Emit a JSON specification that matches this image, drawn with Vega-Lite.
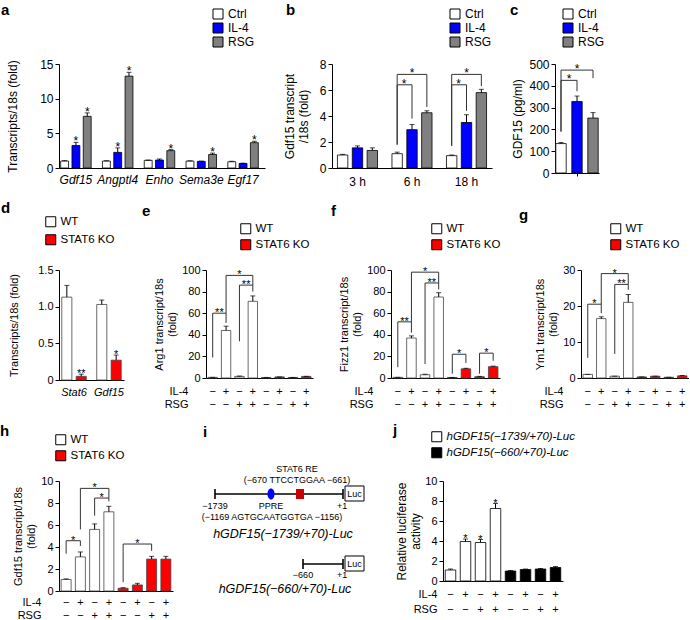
{
"$schema":"https://vega.github.io/schema/vega-lite/v6.json",
"padding":{"left":0,"top":3,"right":0,"bottom":0},
"background":"white",
"spacing":14,
"resolve":{"scale":{"fill":"independent","xOffset":"independent","x":"independent","y":"independent"},"legend":{"fill":"independent"}},
"config":{
 "font":"Liberation Sans",
 "view":{"stroke":null},
 "axis":{"grid":false,"domainColor":"#000","tickColor":"#000","labelColor":"#000","titleColor":"#000","labelFontSize":11,"titleFontSize":11,"titleFontWeight":"normal","tickSize":4,"labelPadding":2,"labelOverlap":false},
 "legend":{"symbolType":"square","symbolSize":100,"symbolStrokeColor":"#000","symbolStrokeWidth":1,"labelFontSize":11.5,"labelColor":"#000","rowPadding":1,"labelOffset":4},
 "title":{"fontSize":15,"fontWeight":"bold","anchor":"start","frame":"group","color":"#000"}
},
"vconcat":[
{"hconcat":[
 {"width":206,"height":104,
  "title":{"text":"a","dx":-58,"offset":-10},
  "data":{"values":[
   {"g":"Gdf15","c":"Ctrl","v":1.0,"hi":1.07,"t":""},
   {"g":"Gdf15","c":"IL-4","v":3.25,"hi":3.7,"t":"*"},
   {"g":"Gdf15","c":"RSG","v":7.45,"hi":7.95,"t":"*"},
   {"g":"Angptl4","c":"Ctrl","v":1.0,"hi":1.05,"t":""},
   {"g":"Angptl4","c":"IL-4","v":2.25,"hi":2.9,"t":"*"},
   {"g":"Angptl4","c":"RSG","v":13.25,"hi":13.8,"t":"*"},
   {"g":"Enho","c":"Ctrl","v":1.1,"hi":1.15,"t":""},
   {"g":"Enho","c":"IL-4","v":1.15,"hi":1.3,"t":""},
   {"g":"Enho","c":"RSG","v":2.5,"hi":2.65,"t":"*"},
   {"g":"Sema3e","c":"Ctrl","v":1.0,"hi":1.03,"t":""},
   {"g":"Sema3e","c":"IL-4","v":0.95,"hi":1.0,"t":""},
   {"g":"Sema3e","c":"RSG","v":1.95,"hi":2.15,"t":"*"},
   {"g":"Egf17","c":"Ctrl","v":0.9,"hi":0.97,"t":""},
   {"g":"Egf17","c":"IL-4","v":0.65,"hi":0.7,"t":""},
   {"g":"Egf17","c":"RSG","v":3.65,"hi":3.85,"t":"*"}
  ]},
  "encoding":{
   "x":{"field":"g","type":"nominal","sort":null,"scale":{"paddingInner":0.27,"paddingOuter":0.1,"align":0.2},"axis":{"title":null,"labelAngle":0,"ticks":false,"labelFontStyle":"italic","labelFontSize":12,"labelPadding":6}},
   "xOffset":{"field":"c","type":"nominal","sort":["Ctrl","IL-4","RSG"],"scale":{"paddingInner":0.3}}
  },
  "layer":[
   {"mark":{"type":"bar","stroke":"#000","strokeWidth":0.8},
    "encoding":{"y":{"field":"v","type":"quantitative","scale":{"domain":[0,15]},"axis":{"values":[0,5,10,15],"tickCount":20,"format":"d","title":"Transcripts/18s (fold)","labelFontSize":12,"titleFontSize":12,"titlePadding":20}},
     "fill":{"field":"c","type":"nominal","scale":{"domain":["Ctrl","IL-4","RSG"],"range":["#ffffff","#0000ff","#808080"]},"legend":{"orient":"none","legendX":153,"legendY":-56,"title":null,"labelFontSize":12,"rowPadding":0}}}},
   {"mark":{"type":"rule","color":"#000","strokeWidth":1},"encoding":{"y":{"field":"v","type":"quantitative","scale":{"domain":[0,15]}},"y2":{"field":"hi"}}},
   {"mark":{"type":"tick","color":"#000","thickness":1,"size":5},"encoding":{"y":{"field":"hi","type":"quantitative","scale":{"domain":[0,15]}}}},
   {"mark":{"type":"text","fontSize":12,"dy":3,"baseline":"alphabetic"},"encoding":{"y":{"field":"hi","type":"quantitative","scale":{"domain":[0,15]}},"text":{"field":"t"}}}
  ]},
 {"width":160,"height":104,
  "title":{"text":"b","dx":-46,"offset":-10},
  "data":{"values":[
   {"tm":"3 h","c":"Ctrl","v":1.0,"hi":1.05},
   {"tm":"3 h","c":"IL-4","v":1.55,"hi":1.7},
   {"tm":"3 h","c":"RSG","v":1.35,"hi":1.55},
   {"tm":"6 h","c":"Ctrl","v":1.1,"hi":1.22},
   {"tm":"6 h","c":"IL-4","v":2.95,"hi":3.35},
   {"tm":"6 h","c":"RSG","v":4.25,"hi":4.4},
   {"tm":"18 h","c":"Ctrl","v":0.95,"hi":1.0},
   {"tm":"18 h","c":"IL-4","v":3.5,"hi":4.1},
   {"tm":"18 h","c":"RSG","v":5.8,"hi":6.05}
  ]},
  "encoding":{
   "x":{"field":"tm","type":"nominal","sort":null,"scale":{"domain":["3 h","6 h","18 h"],"paddingInner":0.265,"paddingOuter":0.1},"axis":{"title":null,"labelAngle":0,"ticks":false,"labelFontSize":12,"labelPadding":8}},
   "xOffset":{"field":"c","type":"nominal","sort":["Ctrl","IL-4","RSG"],"scale":{"domain":["Ctrl","IL-4","RSG"],"paddingInner":0.3}}
  },
  "layer":[
   {"mark":{"type":"bar","stroke":"#000","strokeWidth":0.8},
    "encoding":{"y":{"field":"v","type":"quantitative","scale":{"domain":[0,8]},"axis":{"values":[0,2,4,6,8],"tickCount":20,"format":"d","title":["Gdf15 transcript","/18s (fold)"],"labelFontSize":12,"titleFontSize":12,"titlePadding":9}},
     "fill":{"field":"c","type":"nominal","scale":{"domain":["Ctrl","IL-4","RSG"],"range":["#ffffff","#0000ff","#808080"]},"legend":{"orient":"none","legendX":117,"legendY":-56,"title":null,"labelFontSize":12,"rowPadding":0}}}},
   {"mark":{"type":"rule","color":"#000","strokeWidth":1},"encoding":{"y":{"field":"v","type":"quantitative","scale":{"domain":[0,8]}},"y2":{"field":"hi"}}},
   {"mark":{"type":"tick","color":"#000","thickness":1,"size":5},"encoding":{"y":{"field":"hi","type":"quantitative","scale":{"domain":[0,8]}}}},
   {"data":{"values":[
     {"id":"b1","tm":"6 h","c":"Ctrl","v":1.8,"o":1},{"id":"b1","tm":"6 h","c":"Ctrl","v":6.4,"o":2},{"id":"b1","tm":"6 h","c":"IL-4","v":6.4,"o":3},{"id":"b1","tm":"6 h","c":"IL-4","v":3.8,"o":4},
     {"id":"b2","tm":"6 h","c":"Ctrl","v":1.8,"o":1},{"id":"b2","tm":"6 h","c":"Ctrl","v":7.2,"o":2},{"id":"b2","tm":"6 h","c":"RSG","v":7.2,"o":3},{"id":"b2","tm":"6 h","c":"RSG","v":4.7,"o":4},
     {"id":"b3","tm":"18 h","c":"Ctrl","v":1.7,"o":1},{"id":"b3","tm":"18 h","c":"Ctrl","v":6.4,"o":2},{"id":"b3","tm":"18 h","c":"IL-4","v":6.4,"o":3},{"id":"b3","tm":"18 h","c":"IL-4","v":4.4,"o":4},
     {"id":"b4","tm":"18 h","c":"Ctrl","v":1.7,"o":1},{"id":"b4","tm":"18 h","c":"Ctrl","v":7.2,"o":2},{"id":"b4","tm":"18 h","c":"RSG","v":7.2,"o":3},{"id":"b4","tm":"18 h","c":"RSG","v":6.3,"o":4}
    ]},
    "mark":{"type":"line","color":"#333","strokeWidth":1},
    "encoding":{"y":{"field":"v","type":"quantitative","scale":{"domain":[0,8]}},"detail":{"field":"id"},"order":{"field":"o","type":"quantitative"}}},
   {"data":{"values":[{"tm":"6 h","c":"Ctrl","v":6.4,"t":"*"},{"tm":"18 h","c":"Ctrl","v":6.4,"t":"*"}]},
    "mark":{"type":"text","fontSize":12,"dx":7,"dy":3,"baseline":"alphabetic"},
    "encoding":{"y":{"field":"v","type":"quantitative","scale":{"domain":[0,8]}},"text":{"field":"t"}}},
   {"data":{"values":[{"tm":"6 h","c":"IL-4","v":7.2,"t":"*"},{"tm":"18 h","c":"IL-4","v":7.2,"t":"*"}]},
    "mark":{"type":"text","fontSize":12,"dy":3,"baseline":"alphabetic"},
    "encoding":{"y":{"field":"v","type":"quantitative","scale":{"domain":[0,8]}},"text":{"field":"t"}}}
  ]},
 {"width":44,"height":109,
  "title":{"text":"c","dx":-45,"offset":-10},
  "data":{"values":[
   {"c":"Ctrl","v":135,"hi":140},
   {"c":"IL-4","v":328,"hi":353},
   {"c":"RSG","v":252,"hi":277}
  ]},
  "encoding":{
   "x":{"field":"c","type":"nominal","sort":null,"scale":{"domain":["Ctrl","IL-4","RSG"],"paddingInner":0.35,"paddingOuter":0.05},"axis":{"title":null,"labels":false,"ticks":true,"tickSize":3,"values":["IL-4"]}}
  },
  "layer":[
   {"mark":{"type":"bar","stroke":"#000","strokeWidth":0.8},
    "encoding":{"y":{"field":"v","type":"quantitative","scale":{"domain":[0,500]},"axis":{"values":[0,100,200,300,400,500],"tickCount":20,"format":"d","title":"GDF15 (pg/ml)","labelFontSize":12,"titleFontSize":12}},
     "fill":{"field":"c","type":"nominal","scale":{"domain":["Ctrl","IL-4","RSG"],"range":["#ffffff","#0000ff","#808080"]},"legend":{"orient":"none","legendX":7,"legendY":-56,"title":null,"labelFontSize":12,"rowPadding":0}}}},
   {"mark":{"type":"rule","color":"#000","strokeWidth":1},"encoding":{"y":{"field":"v","type":"quantitative","scale":{"domain":[0,500]}},"y2":{"field":"hi"}}},
   {"mark":{"type":"tick","color":"#000","thickness":1,"size":5},"encoding":{"y":{"field":"hi","type":"quantitative","scale":{"domain":[0,500]}}}},
   {"data":{"values":[
     {"id":"c1","c":"Ctrl","v":190,"o":1},{"id":"c1","c":"Ctrl","v":425,"o":2},{"id":"c1","c":"IL-4","v":425,"o":3},{"id":"c1","c":"IL-4","v":375,"o":4},
     {"id":"c2","c":"Ctrl","v":190,"o":1},{"id":"c2","c":"Ctrl","v":472,"o":2},{"id":"c2","c":"RSG","v":472,"o":3},{"id":"c2","c":"RSG","v":435,"o":4}
    ]},
    "mark":{"type":"line","color":"#333","strokeWidth":1},
    "encoding":{"y":{"field":"v","type":"quantitative","scale":{"domain":[0,500]}},"detail":{"field":"id"},"order":{"field":"o","type":"quantitative"}}},
   {"data":{"values":[{"c":"Ctrl","v":425,"t":"*"}]},
    "mark":{"type":"text","fontSize":12,"dx":8,"dy":3,"baseline":"alphabetic"},
    "encoding":{"y":{"field":"v","type":"quantitative","scale":{"domain":[0,500]}},"text":{"field":"t"}}},
   {"data":{"values":[{"c":"IL-4","v":472,"t":"*"}]},
    "mark":{"type":"text","fontSize":12,"dy":3,"baseline":"alphabetic"},
    "encoding":{"y":{"field":"v","type":"quantitative","scale":{"domain":[0,500]}},"text":{"field":"t"}}}
  ]}
],"spacing":18,"resolve":{"scale":{"fill":"independent","xOffset":"independent","x":"independent","y":"independent"},"legend":{"fill":"independent"}}},
{"hconcat":[
 {"width":65,"height":110,
  "title":{"text":"d","dx":-58,"offset":0},
  "data":{"values":[
   {"g":"Stat6","k":"WT","v":1.13,"hi":1.29,"t":""},
   {"g":"Stat6","k":"STAT6 KO","v":0.05,"hi":0.08,"t":"**"},
   {"g":"Gdf15","k":"WT","v":1.03,"hi":1.09,"t":""},
   {"g":"Gdf15","k":"STAT6 KO","v":0.27,"hi":0.34,"t":"*"}
  ]},
  "encoding":{
   "x":{"field":"g","type":"nominal","sort":null,"scale":{"paddingInner":0.3,"paddingOuter":0.08},"axis":{"title":null,"labelAngle":0,"ticks":false,"labelFontStyle":"italic","labelPadding":6}},
   "xOffset":{"field":"k","type":"nominal","sort":["WT","STAT6 KO"],"scale":{"paddingInner":0.3}}
  },
  "layer":[
   {"mark":{"type":"bar","stroke":"#444","strokeWidth":0.8},
    "encoding":{"y":{"field":"v","type":"quantitative","scale":{"domain":[0,1.5]},"axis":{"values":[0,0.5,1,1.5],"tickCount":20,"labelExpr":"datum.value === 0 ? '0' : format(datum.value, '.1f')","title":"Transcripts/18s (fold)","titlePadding":18}},
     "fill":{"field":"k","type":"nominal","scale":{"domain":["WT","STAT6 KO"],"range":["#ffffff","#ff0000"]},"legend":{"orient":"none","legendX":-14,"legendY":-54,"title":null,"rowPadding":3}}}},
   {"mark":{"type":"rule","color":"#000","strokeWidth":1},"encoding":{"y":{"field":"v","type":"quantitative","scale":{"domain":[0,1.5]}},"y2":{"field":"hi"}}},
   {"mark":{"type":"tick","color":"#000","thickness":1,"size":5},"encoding":{"y":{"field":"hi","type":"quantitative","scale":{"domain":[0,1.5]}}}},
   {"mark":{"type":"text","fontSize":11,"dy":3,"baseline":"alphabetic"},"encoding":{"y":{"field":"hi","type":"quantitative","scale":{"domain":[0,1.5]}},"text":{"field":"t"}}}
  ]},
 {"width":107,"height":108,
  "title":{"text":"e","dx":-64,"offset":4},
  "data":{"values":[
   {"s":"WT,−,−","k":"WT","v":0.6,"hi":0.6},
   {"s":"WT,+,−","k":"WT","v":44,"hi":48},
   {"s":"WT,−,+","k":"WT","v":1.5,"hi":1.8},
   {"s":"WT,+,+","k":"WT","v":71,"hi":76},
   {"s":"KO,−,−","k":"STAT6 KO","v":0.5,"hi":0.5},
   {"s":"KO,+,−","k":"STAT6 KO","v":1.0,"hi":1.0},
   {"s":"KO,−,+","k":"STAT6 KO","v":0.5,"hi":0.5},
   {"s":"KO,+,+","k":"STAT6 KO","v":1.5,"hi":1.5}
  ]},
  "encoding":{
   "x":{"field":"s","type":"nominal","sort":null,"scale":{"domain":["WT,−,−","WT,+,−","WT,−,+","WT,+,+","KO,−,−","KO,+,−","KO,−,+","KO,+,+"],"paddingInner":0.3,"paddingOuter":0.15},
    "axis":{"title":["IL-4","RSG"],"labelExpr":"slice(split(datum.value, ','), 1)","labelAngle":0,"ticks":false,"labelBaseline":"top","labelLineHeight":13,"labelPadding":7,"titleLineHeight":13,"titleAngle":0,"titleAlign":"right","titleBaseline":"top","titleX":-18,"titleY":7}}
  },
  "layer":[
   {"mark":{"type":"bar","stroke":"#444","strokeWidth":0.8},
    "encoding":{"y":{"field":"v","type":"quantitative","scale":{"domain":[0,100]},"axis":{"values":[0,20,40,60,80,100],"tickCount":20,"format":"d","title":["Arg1 transcript/18s","(fold)"]}},
     "fill":{"field":"k","type":"nominal","scale":{"domain":["WT","STAT6 KO"],"range":["#ffffff","#ff0000"]},"legend":{"orient":"none","legendX":34,"legendY":-47,"title":null}}}},
   {"mark":{"type":"rule","color":"#000","strokeWidth":1},"encoding":{"y":{"field":"v","type":"quantitative","scale":{"domain":[0,100]}},"y2":{"field":"hi"}}},
   {"mark":{"type":"tick","color":"#000","thickness":1,"size":5},"encoding":{"y":{"field":"hi","type":"quantitative","scale":{"domain":[0,100]}}}},
   {"data":{"values":[
     {"id":"e1","s":"WT,−,−","v":19,"o":1},{"id":"e1","s":"WT,−,−","v":60,"o":2},{"id":"e1","s":"WT,+,−","v":60,"o":3},{"id":"e1","s":"WT,+,−","v":51,"o":4},
     {"id":"e2","s":"WT,−,+","v":34,"o":1},{"id":"e2","s":"WT,−,+","v":86,"o":2},{"id":"e2","s":"WT,+,+","v":86,"o":3},{"id":"e2","s":"WT,+,+","v":80,"o":4},
     {"id":"e3","s":"WT,+,−","v":60,"o":1},{"id":"e3","s":"WT,+,−","v":95,"o":2},{"id":"e3","s":"WT,+,+","v":95,"o":3},{"id":"e3","s":"WT,+,+","v":86,"o":4}
    ]},
    "mark":{"type":"line","color":"#333","strokeWidth":1},
    "encoding":{"y":{"field":"v","type":"quantitative","scale":{"domain":[0,100]}},"detail":{"field":"id"},"order":{"field":"o","type":"quantitative"}}},
   {"data":{"values":[{"s":"WT,−,−","v":60,"t":"**"},{"s":"WT,−,+","v":86,"t":"**"}]},
    "mark":{"type":"text","fontSize":11,"dx":6.7,"dy":3,"baseline":"alphabetic"},
    "encoding":{"y":{"field":"v","type":"quantitative","scale":{"domain":[0,100]}},"text":{"field":"t"}}},
   {"data":{"values":[{"s":"WT,−,+","v":95,"t":"*"}]},
    "mark":{"type":"text","fontSize":11,"dy":3,"baseline":"alphabetic"},
    "encoding":{"y":{"field":"v","type":"quantitative","scale":{"domain":[0,100]}},"text":{"field":"t"}}}
  ]},
 {"width":109,"height":108,
  "title":{"text":"f","dx":-60,"offset":4},
  "data":{"values":[
   {"s":"WT,−,−","k":"WT","v":0.6,"hi":0.6},
   {"s":"WT,+,−","k":"WT","v":37,"hi":39},
   {"s":"WT,−,+","k":"WT","v":3,"hi":3.5},
   {"s":"WT,+,+","k":"WT","v":75,"hi":79},
   {"s":"KO,−,−","k":"STAT6 KO","v":0.5,"hi":0.5},
   {"s":"KO,+,−","k":"STAT6 KO","v":8.5,"hi":9},
   {"s":"KO,−,+","k":"STAT6 KO","v":1.2,"hi":1.5},
   {"s":"KO,+,+","k":"STAT6 KO","v":10.5,"hi":11}
  ]},
  "encoding":{
   "x":{"field":"s","type":"nominal","sort":null,"scale":{"domain":["WT,−,−","WT,+,−","WT,−,+","WT,+,+","KO,−,−","KO,+,−","KO,−,+","KO,+,+"],"paddingInner":0.3,"paddingOuter":0.15},
    "axis":{"title":["IL-4","RSG"],"labelExpr":"slice(split(datum.value, ','), 1)","labelAngle":0,"ticks":false,"labelBaseline":"top","labelLineHeight":13,"labelPadding":7,"titleLineHeight":13,"titleAngle":0,"titleAlign":"right","titleBaseline":"top","titleX":-18,"titleY":7}}
  },
  "layer":[
   {"mark":{"type":"bar","stroke":"#444","strokeWidth":0.8},
    "encoding":{"y":{"field":"v","type":"quantitative","scale":{"domain":[0,100]},"axis":{"values":[0,20,40,60,80,100],"tickCount":20,"format":"d","title":["Fizz1 transcript/18s","(fold)"]}},
     "fill":{"field":"k","type":"nominal","scale":{"domain":["WT","STAT6 KO"],"range":["#ffffff","#ff0000"]},"legend":{"orient":"none","legendX":40,"legendY":-47,"title":null}}}},
   {"mark":{"type":"rule","color":"#000","strokeWidth":1},"encoding":{"y":{"field":"v","type":"quantitative","scale":{"domain":[0,100]}},"y2":{"field":"hi"}}},
   {"mark":{"type":"tick","color":"#000","thickness":1,"size":5},"encoding":{"y":{"field":"hi","type":"quantitative","scale":{"domain":[0,100]}}}},
   {"data":{"values":[
     {"id":"f1","s":"WT,−,−","v":10,"o":1},{"id":"f1","s":"WT,−,−","v":52,"o":2},{"id":"f1","s":"WT,+,−","v":52,"o":3},{"id":"f1","s":"WT,+,−","v":42,"o":4},
     {"id":"f2","s":"WT,−,+","v":13,"o":1},{"id":"f2","s":"WT,−,+","v":88,"o":2},{"id":"f2","s":"WT,+,+","v":88,"o":3},{"id":"f2","s":"WT,+,+","v":82,"o":4},
     {"id":"f3","s":"WT,+,−","v":52,"o":1},{"id":"f3","s":"WT,+,−","v":98,"o":2},{"id":"f3","s":"WT,+,+","v":98,"o":3},{"id":"f3","s":"WT,+,+","v":88,"o":4},
     {"id":"f4","s":"KO,−,−","v":4,"o":1},{"id":"f4","s":"KO,−,−","v":22,"o":2},{"id":"f4","s":"KO,+,−","v":22,"o":3},{"id":"f4","s":"KO,+,−","v":14,"o":4},
     {"id":"f5","s":"KO,−,+","v":4,"o":1},{"id":"f5","s":"KO,−,+","v":23,"o":2},{"id":"f5","s":"KO,+,+","v":23,"o":3},{"id":"f5","s":"KO,+,+","v":16,"o":4}
    ]},
    "mark":{"type":"line","color":"#333","strokeWidth":1},
    "encoding":{"y":{"field":"v","type":"quantitative","scale":{"domain":[0,100]}},"detail":{"field":"id"},"order":{"field":"o","type":"quantitative"}}},
   {"data":{"values":[{"s":"WT,−,−","v":52,"t":"**"},{"s":"WT,−,+","v":88,"t":"**"},{"s":"KO,−,−","v":22,"t":"*"},{"s":"KO,−,+","v":23,"t":"*"}]},
    "mark":{"type":"text","fontSize":11,"dx":6.8,"dy":3,"baseline":"alphabetic"},
    "encoding":{"y":{"field":"v","type":"quantitative","scale":{"domain":[0,100]}},"text":{"field":"t"}}},
   {"data":{"values":[{"s":"WT,−,+","v":98,"t":"*"}]},
    "mark":{"type":"text","fontSize":11,"dy":3,"baseline":"alphabetic"},
    "encoding":{"y":{"field":"v","type":"quantitative","scale":{"domain":[0,100]}},"text":{"field":"t"}}}
  ]},
 {"width":108,"height":108,
  "title":{"text":"g","dx":-62,"offset":0},
  "data":{"values":[
   {"s":"WT,−,−","k":"WT","v":1.0,"hi":1.0},
   {"s":"WT,+,−","k":"WT","v":16.5,"hi":17.0},
   {"s":"WT,−,+","k":"WT","v":0.5,"hi":0.5},
   {"s":"WT,+,+","k":"WT","v":21,"hi":23.2},
   {"s":"KO,−,−","k":"STAT6 KO","v":0.3,"hi":0.3},
   {"s":"KO,+,−","k":"STAT6 KO","v":0.5,"hi":0.5},
   {"s":"KO,−,+","k":"STAT6 KO","v":0.2,"hi":0.2},
   {"s":"KO,+,+","k":"STAT6 KO","v":0.6,"hi":0.7}
  ]},
  "encoding":{
   "x":{"field":"s","type":"nominal","sort":null,"scale":{"domain":["WT,−,−","WT,+,−","WT,−,+","WT,+,+","KO,−,−","KO,+,−","KO,−,+","KO,+,+"],"paddingInner":0.3,"paddingOuter":0.15},
    "axis":{"title":["IL-4","RSG"],"labelExpr":"slice(split(datum.value, ','), 1)","labelAngle":0,"ticks":false,"labelBaseline":"top","labelLineHeight":13,"labelPadding":7,"titleLineHeight":13,"titleAngle":0,"titleAlign":"right","titleBaseline":"top","titleX":-18,"titleY":7}}
  },
  "layer":[
   {"mark":{"type":"bar","stroke":"#444","strokeWidth":0.8},
    "encoding":{"y":{"field":"v","type":"quantitative","scale":{"domain":[0,30]},"axis":{"values":[0,10,20,30],"tickCount":20,"format":"d","title":["Ym1 transcript/18s","(fold)"]}},
     "fill":{"field":"k","type":"nominal","scale":{"domain":["WT","STAT6 KO"],"range":["#ffffff","#ff0000"]},"legend":{"orient":"none","legendX":29,"legendY":-47,"title":null}}}},
   {"mark":{"type":"rule","color":"#000","strokeWidth":1},"encoding":{"y":{"field":"v","type":"quantitative","scale":{"domain":[0,30]}},"y2":{"field":"hi"}}},
   {"mark":{"type":"tick","color":"#000","thickness":1,"size":5},"encoding":{"y":{"field":"hi","type":"quantitative","scale":{"domain":[0,30]}}}},
   {"data":{"values":[
     {"id":"g1","s":"WT,−,−","v":5.6,"o":1},{"id":"g1","s":"WT,−,−","v":20.5,"o":2},{"id":"g1","s":"WT,+,−","v":20.5,"o":3},{"id":"g1","s":"WT,+,−","v":18,"o":4},
     {"id":"g2","s":"WT,−,+","v":6.7,"o":1},{"id":"g2","s":"WT,−,+","v":26,"o":2},{"id":"g2","s":"WT,+,+","v":26,"o":3},{"id":"g2","s":"WT,+,+","v":24.5,"o":4},
     {"id":"g3","s":"WT,+,−","v":20.5,"o":1},{"id":"g3","s":"WT,+,−","v":29,"o":2},{"id":"g3","s":"WT,+,+","v":29,"o":3},{"id":"g3","s":"WT,+,+","v":26,"o":4}
    ]},
    "mark":{"type":"line","color":"#333","strokeWidth":1},
    "encoding":{"y":{"field":"v","type":"quantitative","scale":{"domain":[0,30]}},"detail":{"field":"id"},"order":{"field":"o","type":"quantitative"}}},
   {"data":{"values":[{"s":"WT,−,−","v":20.5,"t":"*"},{"s":"WT,−,+","v":26,"t":"**"}]},
    "mark":{"type":"text","fontSize":11,"dx":6.7,"dy":3,"baseline":"alphabetic"},
    "encoding":{"y":{"field":"v","type":"quantitative","scale":{"domain":[0,30]}},"text":{"field":"t"}}},
   {"data":{"values":[{"s":"WT,−,+","v":29,"t":"*"}]},
    "mark":{"type":"text","fontSize":11,"dy":3,"baseline":"alphabetic"},
    "encoding":{"y":{"field":"v","type":"quantitative","scale":{"domain":[0,30]}},"text":{"field":"t"}}}
  ]}
],"spacing":18,"resolve":{"scale":{"fill":"independent","xOffset":"independent","x":"independent","y":"independent"},"legend":{"fill":"independent"}}},
{"hconcat":[
 {"width":114,"height":110,
  "title":{"text":"h","dx":-59,"offset":-5},
  "data":{"values":[
   {"s":"WT,−,−","k":"WT","v":1.05,"hi":1.1},
   {"s":"WT,+,−","k":"WT","v":3.1,"hi":3.55},
   {"s":"WT,−,+","k":"WT","v":5.6,"hi":6.1},
   {"s":"WT,+,+","k":"WT","v":7.2,"hi":7.7},
   {"s":"KO,−,−","k":"STAT6 KO","v":0.25,"hi":0.3},
   {"s":"KO,+,−","k":"STAT6 KO","v":0.55,"hi":0.7},
   {"s":"KO,−,+","k":"STAT6 KO","v":2.9,"hi":3.15},
   {"s":"KO,+,+","k":"STAT6 KO","v":2.9,"hi":3.15}
  ]},
  "encoding":{
   "x":{"field":"s","type":"nominal","sort":null,"scale":{"domain":["WT,−,−","WT,+,−","WT,−,+","WT,+,+","KO,−,−","KO,+,−","KO,−,+","KO,+,+"],"paddingInner":0.3,"paddingOuter":0.15},
    "axis":{"title":["IL-4","RSG"],"labelExpr":"slice(split(datum.value, ','), 1)","labelAngle":0,"ticks":false,"labelBaseline":"top","labelLineHeight":13,"labelPadding":5,"titleLineHeight":13,"titleAngle":0,"titleAlign":"right","titleBaseline":"top","titleX":-18,"titleY":5}}
  },
  "layer":[
   {"mark":{"type":"bar","stroke":"#444","strokeWidth":0.8},
    "encoding":{"y":{"field":"v","type":"quantitative","scale":{"domain":[0,10]},"axis":{"values":[0,2,4,6,8,10],"tickCount":20,"format":"d","title":["Gdf15 transcript/18s","(fold)"]}},
     "fill":{"field":"k","type":"nominal","scale":{"domain":["WT","STAT6 KO"],"range":["#ffffff","#ff0000"]},"legend":{"orient":"none","legendX":-4,"legendY":-47,"title":null}}}},
   {"mark":{"type":"rule","color":"#000","strokeWidth":1},"encoding":{"y":{"field":"v","type":"quantitative","scale":{"domain":[0,10]}},"y2":{"field":"hi"}}},
   {"mark":{"type":"tick","color":"#000","thickness":1,"size":5},"encoding":{"y":{"field":"hi","type":"quantitative","scale":{"domain":[0,10]}}}},
   {"data":{"values":[
     {"id":"h1","s":"WT,−,−","v":3.4,"o":1},{"id":"h1","s":"WT,−,−","v":4.57,"o":2},{"id":"h1","s":"WT,+,−","v":4.57,"o":3},{"id":"h1","s":"WT,+,−","v":4.1,"o":4},
     {"id":"h2","s":"WT,−,+","v":6.85,"o":1},{"id":"h2","s":"WT,−,+","v":8.45,"o":2},{"id":"h2","s":"WT,+,+","v":8.45,"o":3},{"id":"h2","s":"WT,+,+","v":8.15,"o":4},
     {"id":"h3","s":"WT,+,−","v":5.6,"o":1},{"id":"h3","s":"WT,+,−","v":9.33,"o":2},{"id":"h3","s":"WT,+,+","v":9.33,"o":3},{"id":"h3","s":"WT,+,+","v":8.45,"o":4},
     {"id":"h4","s":"KO,−,−","v":0.8,"o":1},{"id":"h4","s":"KO,−,−","v":4.27,"o":2},{"id":"h4","s":"KO,−,+","v":4.27,"o":3},{"id":"h4","s":"KO,−,+","v":3.65,"o":4}
    ]},
    "mark":{"type":"line","color":"#333","strokeWidth":1},
    "encoding":{"y":{"field":"v","type":"quantitative","scale":{"domain":[0,10]}},"detail":{"field":"id"},"order":{"field":"o","type":"quantitative"}}},
   {"data":{"values":[{"s":"WT,−,−","v":4.57,"t":"*"},{"s":"WT,−,+","v":8.45,"t":"*"}]},
    "mark":{"type":"text","fontSize":11,"dx":7,"dy":3,"baseline":"alphabetic"},
    "encoding":{"y":{"field":"v","type":"quantitative","scale":{"domain":[0,10]}},"text":{"field":"t"}}},
   {"data":{"values":[{"s":"WT,−,+","v":9.33,"t":"*"},{"s":"KO,+,−","v":4.27,"t":"*"}]},
    "mark":{"type":"text","fontSize":11,"dy":3,"baseline":"alphabetic"},
    "encoding":{"y":{"field":"v","type":"quantitative","scale":{"domain":[0,10]}},"text":{"field":"t"}}}
  ]},
 {"width":184,"height":110,
  "title":{"text":"i","dx":12,"offset":25},
  "layer":[
   {"data":{"values":[{"x":24,"x2":152,"y":13},{"x":112,"x2":152,"y":83}]},
    "mark":{"type":"rule","color":"#000","strokeWidth":1.6},
    "encoding":{"x":{"field":"x","type":"quantitative","scale":{"domain":[0,184],"nice":false,"zero":false},"axis":null},"x2":{"field":"x2"},
     "y":{"field":"y","type":"quantitative","scale":{"domain":[0,110],"nice":false,"zero":false,"reverse":true},"axis":null}}},
   {"data":{"values":[{"x":24,"y":8,"y2":18},{"x":152,"y":8,"y2":18},{"x":112,"y":78,"y2":88},{"x":152,"y":78,"y2":88}]},
    "mark":{"type":"rule","color":"#000","strokeWidth":1.6},
    "encoding":{"x":{"field":"x","type":"quantitative","scale":{"domain":[0,184],"nice":false,"zero":false},"axis":null},
     "y":{"field":"y","type":"quantitative","scale":{"domain":[0,110],"nice":false,"zero":false,"reverse":true},"axis":null},"y2":{"field":"y2"}}},
   {"data":{"values":[{"x":163.5,"y":12.5},{"x":163.5,"y":82.5}]},
    "mark":{"type":"point","shape":"M -1 -0.79 H 1 V 0.79 H -1 Z","size":361,"filled":true,"fill":"#fff","stroke":"#000","strokeWidth":1,"opacity":1},
    "encoding":{"x":{"field":"x","type":"quantitative","scale":{"domain":[0,184],"nice":false,"zero":false},"axis":null},
     "y":{"field":"y","type":"quantitative","scale":{"domain":[0,110],"nice":false,"zero":false,"reverse":true},"axis":null}}},
   {"data":{"values":[{"x":80,"y":13}]},
    "mark":{"type":"point","shape":"M -0.64 0 A 0.64 1 0 1 0 0.64 0 A 0.64 1 0 1 0 -0.64 0 Z","size":121,"filled":true,"fill":"#0000ff","stroke":null,"opacity":1},
    "encoding":{"x":{"field":"x","type":"quantitative","scale":{"domain":[0,184],"nice":false,"zero":false},"axis":null},
     "y":{"field":"y","type":"quantitative","scale":{"domain":[0,110],"nice":false,"zero":false,"reverse":true},"axis":null}}},
   {"data":{"values":[{"x":109,"y":13}]},
    "mark":{"type":"point","shape":"M -0.8 -1 H 0.8 V 1 H -0.8 Z","size":100,"filled":true,"fill":"#cc0000","stroke":null,"opacity":1},
    "encoding":{"x":{"field":"x","type":"quantitative","scale":{"domain":[0,184],"nice":false,"zero":false},"axis":null},
     "y":{"field":"y","type":"quantitative","scale":{"domain":[0,110],"nice":false,"zero":false,"reverse":true},"axis":null}}},
   {"data":{"values":[
     {"x":106,"y":-12,"t":"STAT6 RE"},
     {"x":106,"y":-1,"t":"(−670 TTCCTGGAA −661)"},
     {"x":24,"y":25,"t":"−1739"},
     {"x":80,"y":25,"t":"PPRE"},
     {"x":151,"y":25,"t":"+1"},
     {"x":81,"y":36,"t":"(−1169 AGTGCAATGGTGA −1156)"},
     {"x":163.5,"y":12.5,"t":"Luc"},
     {"x":112,"y":94,"t":"−660"},
     {"x":151,"y":94,"t":"+1"},
     {"x":163.5,"y":82.5,"t":"Luc"}
    ]},
    "mark":{"type":"text","fontSize":9,"baseline":"middle","align":"center","color":"#000"},
    "encoding":{"x":{"field":"x","type":"quantitative","scale":{"domain":[0,184],"nice":false,"zero":false},"axis":null},
     "y":{"field":"y","type":"quantitative","scale":{"domain":[0,110],"nice":false,"zero":false,"reverse":true},"axis":null},"text":{"field":"t"}}},
   {"data":{"values":[
     {"x":92,"y":53,"t":"hGDF15(−1739/+70)-Luc"},
     {"x":94,"y":108,"t":"hGDF15(−660/+70)-Luc"}
    ]},
    "mark":{"type":"text","fontSize":12.5,"fontStyle":"italic","baseline":"middle","align":"center","color":"#000"},
    "encoding":{"x":{"field":"x","type":"quantitative","scale":{"domain":[0,184],"nice":false,"zero":false},"axis":null},
     "y":{"field":"y","type":"quantitative","scale":{"domain":[0,110],"nice":false,"zero":false,"reverse":true},"axis":null},"text":{"field":"t"}}}
  ]},
 {"width":120,"height":100,
  "title":{"text":"j","dx":-50,"offset":-7},
  "data":{"values":[
   {"s":"A,−,−","k":"hGDF15(−1739/+70)-Luc","v":1.1,"hi":1.2,"t":""},
   {"s":"A,+,−","k":"hGDF15(−1739/+70)-Luc","v":3.95,"hi":4.2,"t":"*"},
   {"s":"A,−,+","k":"hGDF15(−1739/+70)-Luc","v":3.85,"hi":4.15,"t":"*"},
   {"s":"A,+,+","k":"hGDF15(−1739/+70)-Luc","v":7.25,"hi":7.75,"t":"*"},
   {"s":"B,−,−","k":"hGDF15(−660/+70)-Luc","v":1.0,"hi":1.05,"t":""},
   {"s":"B,+,−","k":"hGDF15(−660/+70)-Luc","v":1.15,"hi":1.2,"t":""},
   {"s":"B,−,+","k":"hGDF15(−660/+70)-Luc","v":1.2,"hi":1.25,"t":""},
   {"s":"B,+,+","k":"hGDF15(−660/+70)-Luc","v":1.35,"hi":1.45,"t":""}
  ]},
  "encoding":{
   "x":{"field":"s","type":"nominal","sort":null,"scale":{"domain":["A,−,−","A,+,−","A,−,+","A,+,+","B,−,−","B,+,−","B,−,+","B,+,+"],"paddingInner":0.3,"paddingOuter":0.15},
    "axis":{"title":["IL-4","RSG"],"labelExpr":"slice(split(datum.value, ','), 1)","labelAngle":0,"ticks":false,"labelBaseline":"top","labelLineHeight":15,"labelPadding":7,"titleLineHeight":15,"titleAngle":0,"titleAlign":"right","titleBaseline":"top","titleX":-6,"titleY":7}}
  },
  "layer":[
   {"mark":{"type":"bar","stroke":"#000","strokeWidth":0.8},
    "encoding":{"y":{"field":"v","type":"quantitative","scale":{"domain":[0,10]},"axis":{"values":[0,2,4,6,8,10],"tickCount":20,"format":"d","title":["Relative luciferase","activity"],"titleFontSize":12,"titlePadding":2}},
     "fill":{"field":"k","type":"nominal","scale":{"domain":["hGDF15(−1739/+70)-Luc","hGDF15(−660/+70)-Luc"],"range":["#ffffff","#000000"]},"legend":{"orient":"none","legendX":-12,"legendY":-50,"title":null,"labelFontStyle":"italic"}}}},
   {"mark":{"type":"rule","color":"#000","strokeWidth":1},"encoding":{"y":{"field":"v","type":"quantitative","scale":{"domain":[0,10]}},"y2":{"field":"hi"}}},
   {"mark":{"type":"tick","color":"#000","thickness":1,"size":5},"encoding":{"y":{"field":"hi","type":"quantitative","scale":{"domain":[0,10]}}}},
   {"mark":{"type":"text","fontSize":11,"dy":3,"baseline":"alphabetic"},"encoding":{"y":{"field":"hi","type":"quantitative","scale":{"domain":[0,10]}},"text":{"field":"t"}}}
  ]}
],"spacing":18,"resolve":{"scale":{"fill":"independent","xOffset":"independent","x":"independent","y":"independent"},"legend":{"fill":"independent"}}}
]
}
